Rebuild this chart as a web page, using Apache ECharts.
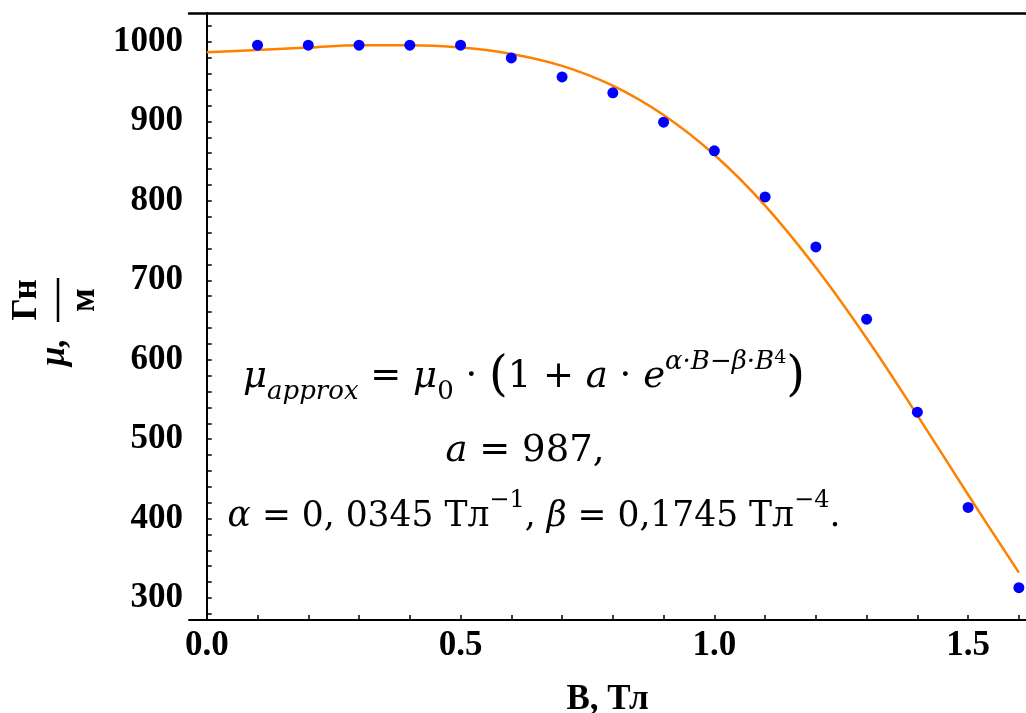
<!DOCTYPE html>
<html>
<head>
<meta charset="utf-8">
<script src="https://cdn.jsdelivr.net/npm/echarts@6/dist/echarts.min.js"></script>
<style>
  html, body { margin: 0; padding: 0; background: #fff; }
  #main { width: 1026px; height: 713px; }
</style>
</head>
<body>
<div id="main"></div>
<script>
// measured points, B in Tl
var pointB = [0.1, 0.2, 0.3, 0.4, 0.5, 0.6, 0.7, 0.8, 0.9, 1.0, 1.1, 1.2, 1.3, 1.4, 1.5, 1.6];
var pointMu = [996, 996, 996, 996, 996, 980, 956, 936, 899, 863, 805, 742, 651, 534, 414, 313];

// approximation curve
var curveB = [0, 0.1, 0.2, 0.3, 0.4, 0.5, 0.6, 0.7, 0.8, 0.9, 1.0, 1.1, 1.2, 1.3, 1.4, 1.5, 1.6];
var curveMu = [987, 990, 993, 996, 996, 993, 985, 970, 945, 908, 858, 794, 716, 627, 530, 430, 332];

var xLabels = [0, 0.5, 1.0, 1.5];
var xTicks = [0, 0.1, 0.2, 0.3, 0.4, 0.5, 0.6, 0.7, 0.8, 0.9, 1.0, 1.1, 1.2, 1.3, 1.4, 1.5, 1.6];
var yLabels = [300, 400, 500, 600, 700, 800, 900, 1000];
var yTicks = [280, 300, 320, 340, 360, 380, 400, 420, 440, 460, 480, 500, 520, 540, 560, 580, 600,
  620, 640, 660, 680, 700, 720, 740, 760, 780, 800, 820, 840, 860, 880, 900, 920, 940, 960, 980, 1000, 1020];

var serif = "'Liberation Serif', 'Times New Roman', serif";
var tickFont = {
  fontFamily: serif,
  fontWeight: 'bold',
  fontSize: 35,
  color: '#000'
};

var mathFont = "'DejaVu Serif', serif";
// rich styles for the formula, s = base font size
function mathRich(s) {
  var small = Math.round(s * 0.7);
  return {
    n: { fontFamily: mathFont, fontSize: s, lineHeight: 56, color: '#000' },
    i: { fontFamily: mathFont, fontStyle: 'italic', fontSize: s, lineHeight: 56, color: '#000' },
    p: { fontFamily: mathFont, fontSize: s * 1.3, lineHeight: 56, color: '#000' },
    sub: { fontFamily: mathFont, fontStyle: 'italic', fontSize: small, lineHeight: 34, verticalAlign: 'bottom', color: '#000' },
    subn: { fontFamily: mathFont, fontSize: small, lineHeight: 34, verticalAlign: 'bottom', color: '#000' },
    sup: { fontFamily: mathFont, fontStyle: 'italic', fontSize: small, lineHeight: 28, verticalAlign: 'top', color: '#000' },
    sup2: { fontFamily: mathFont, fontSize: Math.round(s * 0.5), lineHeight: 18, verticalAlign: 'top', color: '#000' },
    supn: { fontFamily: mathFont, fontSize: small, lineHeight: 34, verticalAlign: 'top', color: '#000' }
  };
}

var chart = echarts.init(document.getElementById('main'));

var option = {
  backgroundColor: '#fff',
  animation: false,
  grid: { left: 189, right: 0, top: 13, bottom: 93, containLabel: false, outerBoundsMode: 'none' },
  xAxis: [{
    type: 'value',
    min: -0.035,
    max: 1.614,
    name: 'B, Тл',
    nameLocation: 'middle',
    nameGap: 62,
    nameTextStyle: tickFont,
    splitLine: { show: false },
    axisLine: { lineStyle: { color: '#000', width: 2 } },
    axisTick: { inside: true, length: 5, customValues: xTicks, lineStyle: { color: '#000', width: 1.5 } },
    axisLabel: Object.assign({ margin: 8, customValues: xLabels, formatter: function (v) { return v.toFixed(1); } }, tickFont)
  }, {
    type: 'value',
    position: 'top',
    min: -0.035,
    max: 1.614,
    splitLine: { show: false },
    axisLine: { lineStyle: { color: '#000', width: 2.5 } },
    axisTick: { show: false },
    axisLabel: { show: false }
  }],
  yAxis: {
    type: 'value',
    min: 272.3,
    max: 1036.5,
    splitLine: { show: false },
    axisLine: { lineStyle: { color: '#000', width: 2 } },
    axisTick: { inside: true, length: 5, customValues: yTicks, lineStyle: { color: '#000', width: 1.5 } },
    axisLabel: Object.assign({ margin: 6, customValues: yLabels, formatter: function (v) { return String(v); } }, tickFont)
  },
  series: [{
    name: 'approx',
    type: 'line',
    data: curveB.map(function (b, k) { return [b, curveMu[k]]; }),
    smooth: 0.4,
    showSymbol: false,
    lineStyle: { color: '#ff8000', width: 2.5 },
    z: 2
  }, {
    name: 'measured',
    type: 'scatter',
    data: pointB.map(function (b, k) { return [b, pointMu[k]]; }),
    symbolSize: 11,
    itemStyle: { color: '#0000ff', opacity: 1 },
    z: 3
  }],
  graphic: [{
    // y axis name: μ, Гн/м rotated
    type: 'group',
    x: 58,
    y: 300,
    rotation: Math.PI / 2,
    children: [{
      type: 'line',
      shape: { x1: -22, y1: 0, x2: 22, y2: 0 },
      style: { stroke: '#000', lineWidth: 2.5 }
    }, {
      type: 'text',
      x: 0, y: -31,
      style: { text: 'Гн', fontFamily: serif, fontWeight: 'bold', fontSize: 35, fill: '#000', align: 'center', verticalAlign: 'middle' }
    }, {
      type: 'text',
      x: 0, y: 27,
      style: { text: 'м', fontFamily: serif, fontWeight: 'bold', fontSize: 35, fill: '#000', align: 'center', verticalAlign: 'middle' }
    }, {
      type: 'text',
      x: -52, y: -3,
      style: { text: 'μ,', fontFamily: serif, fontWeight: 'bold', fontStyle: 'italic', fontSize: 35, fill: '#000', align: 'center', verticalAlign: 'middle' }
    }]
  }, {
    type: 'text',
    x: 524, y: 377,
    style: {
      text: '{i|μ}{sub|approx}{n| = }{i|μ}{subn|0}{n| · }{p|(}{n|1 + }{i|a}{n| · }{i|e}{sup|α·B−β·B}{sup2|4}{p|)}',
      rich: mathRich(37), align: 'center', verticalAlign: 'middle'
    }
  }, {
    type: 'text',
    x: 525, y: 451,
    style: {
      text: '{i|a}{n| = 987,}',
      rich: mathRich(37), align: 'center', verticalAlign: 'middle'
    }
  }, {
    type: 'text',
    x: 534, y: 517,
    style: {
      text: '{i|α}{n| = 0, 0345 Тл}{supn|−1}{n|, }{i|β}{n| = 0,1745 Тл}{supn|−4}{n|.}',
      rich: mathRich(34.5), align: 'center', verticalAlign: 'middle'
    }
  }]
};

chart.setOption(option);
</script>
</body>
</html>
